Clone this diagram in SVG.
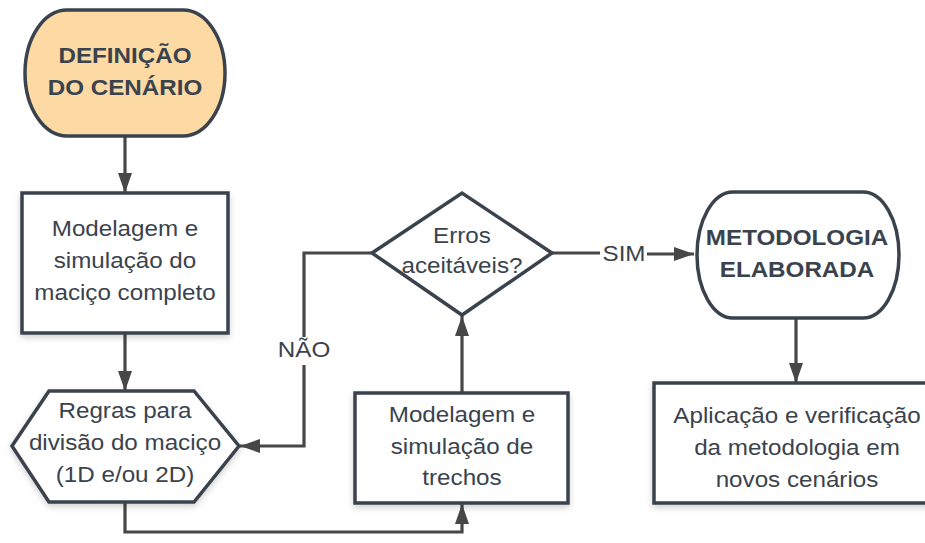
<svg xmlns="http://www.w3.org/2000/svg" width="925" height="543" viewBox="0 0 925 543">
<style>
.shape{fill:#ffffff;stroke:#3a434d;stroke-width:3.5;}
.start{fill:#fdd9a3;}
.t{font-family:"Liberation Sans",Arial,sans-serif;font-size:22px;fill:#3a434d;text-anchor:middle;}
.b{font-weight:bold;}
.conn{fill:none;stroke:#474747;stroke-width:3.2;}
.lbl{font-family:"Liberation Sans",Arial,sans-serif;font-size:22px;fill:#3a434d;text-anchor:middle;}
</style>
<defs>
<marker id="arr" viewBox="0 0 20 14" refX="20" refY="7" markerWidth="20" markerHeight="14" markerUnits="userSpaceOnUse" orient="auto">
<path d="M0,0 L20,7 L0,14 Z" fill="#474747"/>
</marker>
<filter id="sh" x="-10%" y="-10%" width="130%" height="140%">
<feDropShadow dx="0" dy="3" stdDeviation="3" flood-color="#000" flood-opacity="0.18"/>
</filter>
</defs>

<g id="connectors">
<path class="conn" d="M125,137 V193" marker-end="url(#arr)"/>
<path class="conn" d="M125,333 V391" marker-end="url(#arr)"/>
<path class="conn" d="M125,502 V532 H462 V504" marker-end="url(#arr)"/>
<path class="conn" d="M462,393 V316" marker-end="url(#arr)"/>
<path class="conn" d="M372,253 H304 V337"/>
<path class="conn" d="M304,365 V446 H240" marker-end="url(#arr)"/>
<path class="conn" d="M552,253 H600"/>
<path class="conn" d="M647,254 H694" marker-end="url(#arr)"/>
<path class="conn" d="M796,318 V383" marker-end="url(#arr)"/>
<g transform="translate(304 0) scale(1.1 1)"><text class="lbl" x="0" y="357">NÃO</text></g>
<g transform="translate(624 0) scale(1.1 1)"><text class="lbl" x="0" y="261">SIM</text></g>
</g>

<g id="n-definicao">
<rect class="shape start" x="25" y="10" width="200" height="126" rx="42" ry="63"/>
<g transform="translate(125 0) scale(1.1 1)">
<text class="t b" x="0" y="63">DEFINIÇÃO</text>
<text class="t b" x="0" y="95">DO CENÁRIO</text>
</g>
</g>

<g id="n-modelagem-completo">
<rect class="shape" x="22" y="193" width="206" height="140" filter="url(#sh)"/>
<g transform="translate(125 0) scale(1.1 1)">
<text class="t" x="0" y="236">Modelagem e</text>
<text class="t" x="0" y="268">simulação do</text>
<text class="t" x="0" y="300">maciço completo</text>
</g>
</g>

<g id="n-regras">
<polygon class="shape" points="12,446 49,391 194,391 239,446 194,502 49,502" filter="url(#sh)"/>
<g transform="translate(125 0) scale(1.1 1)">
<text class="t" x="0" y="418">Regras para</text>
<text class="t" x="0" y="450">divisão do maciço</text>
<text class="t" x="0" y="482">(1D e/ou 2D)</text>
</g>
</g>

<g id="n-trechos">
<rect class="shape" x="355" y="393" width="213" height="110" filter="url(#sh)"/>
<g transform="translate(462 0) scale(1.1 1)">
<text class="t" x="0" y="422">Modelagem e</text>
<text class="t" x="0" y="454">simulação de</text>
<text class="t" x="0" y="485">trechos</text>
</g>
</g>

<g id="n-erros">
<polygon class="shape" points="372,253 462,193 552,253 462,315"/>
<g transform="translate(462 0) scale(1.1 1)">
<text class="t" x="0" y="243">Erros</text>
<text class="t" x="0" y="273">aceitáveis?</text>
</g>
</g>

<g id="n-metodologia">
<rect class="shape" x="697" y="192" width="202" height="126" rx="36" ry="63"/>
<g transform="translate(797 0) scale(1.1 1)">
<text class="t b" x="0" y="245">METODOLOGIA</text>
<text class="t b" x="0" y="277">ELABORADA</text>
</g>
</g>

<g id="n-aplicacao">
<rect class="shape" x="654" y="383" width="286" height="120" filter="url(#sh)"/>
<g transform="translate(797 0) scale(1.1 1)">
<text class="t" x="0" y="423">Aplicação e verificação</text>
<text class="t" x="0" y="455">da metodologia em</text>
<text class="t" x="0" y="487">novos cenários</text>
</g>
</g>
</svg>
